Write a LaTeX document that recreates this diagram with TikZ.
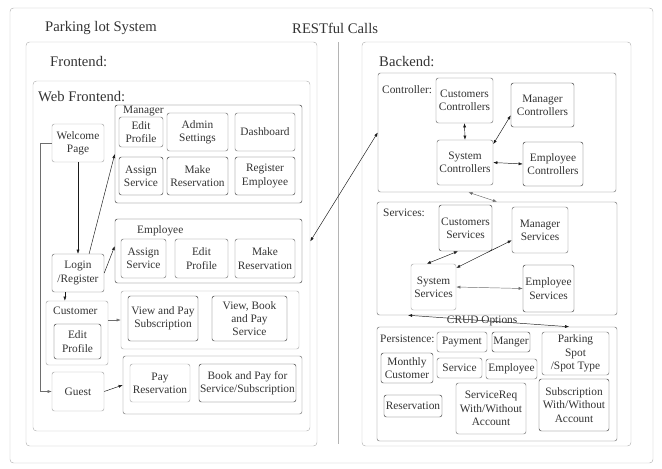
\documentclass[tikz,border=0pt]{standalone}
\usepackage{fontspec}
\setmainfont{Liberation Serif}
\usepackage{xcolor}
\usetikzlibrary{arrows.meta,positioning,calc,fit}
\definecolor{tinta}{HTML}{1A1A1A}
\definecolor{texto}{HTML}{333333}
\definecolor{oscuro}{HTML}{3C3C3C}
\definecolor{medio}{HTML}{6E6E6E}
\definecolor{claro}{HTML}{A6A6A6}
\definecolor{marcoGris}{HTML}{B4B4B4}
\newcommand{\nodofont}{\fontsize{9.7}{11.3}\selectfont}
\newcommand{\titulofont}{\fontsize{12.5}{14}\selectfont}

\begin{document}
\begin{tikzpicture}[x=0.03cm,y=-0.03cm,
    caja/.style={draw=oscuro,rounded corners=2pt,align=center,inner sep=0.8pt,
                 font=\nodofont,text=texto},
    tam/.style 2 args={minimum width=#1*0.03cm,minimum height=#2*0.03cm},
    grupo/.style={draw=oscuro,rounded corners=2pt,inner sep=0pt},
    marco/.style={draw=marcoGris,rounded corners=3pt,inner sep=0pt},
    titulo/.style={anchor=west,inner sep=0pt,font=\titulofont,text=texto},
    etiqueta/.style={anchor=west,inner sep=0pt,font=\nodofont,text=texto},
    flecha/.style={-{Latex[length=3.5pt,width=2.6pt]},line width=0.4pt,tinta},
    dflecha/.style={{Latex[length=3.5pt,width=2.6pt]}-{Latex[length=3.5pt,width=2.6pt]},
                    line width=0.4pt,tinta}]
  \useasboundingbox (0,0) rectangle (662,468);

  % marcos exteriores
  \node[marco,fit={(10,8) (653,463)}] (sis) {};
  \node[marco,fit={(26,42) (317,446)}] (front) {};
  \node[marco,fit={(33,81) (310,431)}] (web) {};
  \node[marco,fit={(362,42) (631,446)}] (back) {};
  \coordinate (sepA) at (338,42);
  \coordinate (sepB) at (338,444);
  \draw[marcoGris] (sepA) -- (sepB);

  \node[titulo] (tSis) at (45,28) {Parking lot System};
  \node[titulo] (tRest) at (292,28) {RESTful Calls};
  \node[titulo] (tFront) at (50,62) {Frontend:};
  \node[titulo] (tWeb) at (38,97) {Web Frontend:};
  \node[titulo] (tBack) at (379,62) {Backend:};

  % frontend: manager
  \node[grupo,fit={(115,105) (302,203)}] (gMan) {};
  \node[etiqueta] (tMan) at (123,111) {Manager};
  \node[caja,draw=medio,tam={44}{30}] (mEdit) at (141,132) {Edit\\Profile};
  \node[caja,draw=medio,tam={61}{38}] (mAdmin) at (197.5,132) {Admin\\Settings};
  \node[caja,draw=medio,tam={60}{38}] (mDash) at (265,132) {Dashboard};
  \node[caja,tam={44}{38}] (mAsig) at (141,176) {Assign\\Service};
  \node[caja,tam={61}{38}] (mRes) at (197.5,176) {Make\\Reservation};
  \node[caja,tam={60}{38}] (mReg) at (265,176) {Register\\Employee};

  \node[caja,draw=claro,tam={52}{38}] (bien) at (78,143) {Welcome\\Page};
  \node[caja,draw=medio,tam={52}{38}] (login) at (78,273) {Login\\/Register};

  % frontend: employee
  \node[grupo,fit={(115,219) (302,283)}] (gEmp) {};
  \node[etiqueta] (tEmp) at (137,231) {Employee};
  \node[caja,draw=medio,tam={45}{39}] (eAsig) at (143.5,258.5) {Assign\\Service};
  \node[caja,draw=medio,tam={53}{39}] (eEdit) at (201.5,258.5) {Edit\\Profile};
  \node[caja,draw=medio,tam={60}{39}] (eRes) at (265,258.5) {Make\\Reservation};

  % frontend: customer
  \node[grupo,draw=claro,fit={(46,301) (108,365)}] (cli) {};
  \node[etiqueta] (tCli) at (53,311) {Customer};
  \node[caja,tam={47}{35}] (cEdit) at (77.5,341.5) {Edit\\Profile};
  \node[grupo,draw=claro,fit={(121,291) (299,349)}] (gCli) {};
  \node[caja,tam={70}{45}] (cSub) at (163,318.5) {View and Pay\\Subscription};
  \node[caja,tam={75}{45}] (cServ) at (249.5,318.5) {View, Book\\and Pay\\Service};

  % frontend: guest
  \node[caja,draw=claro,tam={52}{39}] (inv) at (78,391.5) {Guest};
  \node[grupo,draw=medio,fit={(123,356) (302,414)}] (gInv) {};
  \node[caja,draw=claro,tam={60}{38}] (iPay) at (160,383) {Pay\\Reservation};
  \node[caja,tam={97}{38}] (iBook) at (247.5,383) {Book and Pay for\\Service/Subscription};

  \draw[flecha] (bien.south) -- (login.north);
  \draw[flecha,medio] (bien.west) -- ++(-12,0) |- (inv.west);
  \draw[flecha] (login.60) -- (gMan.west);
  \draw[flecha] (login.east) -- (gEmp.177);
  \coordinate (lc) at ($(login.south west)!0.25!(login.south east)$);
  \draw[flecha] (lc) -- (lc |- cli.north);
  \draw[flecha,medio] (cli.east |- gCli.west) -- (gCli.west);
  \draw[flecha] (inv.east) -- (gInv.west);

  % backend: controladores
  \node[grupo,draw=medio,fit={(378,73) (616,192)}] (ctrl) {};
  \node[etiqueta] (tCtrl) at (382,90) {Controller:};
  \node[caja,draw=medio,tam={57}{45}] (cc) at (464.5,100.5) {Customers\\Controllers};
  \node[caja,tam={63}{44}] (mc) at (542.5,105) {Manager\\Controllers};
  \node[caja,draw=medio,tam={56}{45}] (sc) at (465,162.5) {System\\Controllers};
  \node[caja,tam={60}{44}] (ec) at (553,164) {Employee\\Controllers};
  \draw[dflecha] (cc.south) -- (sc.north);
  \draw[dflecha] (sc.33) -- (mc.198);
  \draw[dflecha] (sc.east) -- (ec.west);

  % backend: servicios
  \node[grupo,draw=medio,fit={(377,202) (617,315)}] (serv) {};
  \node[etiqueta] (tServ) at (383,213) {Services:};
  \node[caja,tam={53}{46}] (cs) at (465.5,228) {Customers\\Services};
  \node[caja,draw=medio,tam={56}{46}] (ms) at (540,230) {Manager\\Services};
  \node[caja,draw=claro,tam={45}{46}] (ss) at (433.5,287) {System\\Services};
  \node[caja,tam={51}{47}] (es) at (548.5,288.5) {Employee\\Services};
  \draw[dflecha] (ss.106) -- (cs.252);
  \draw[dflecha] (ss.40) -- (ms.200);
  \draw[dflecha,medio] (ss.east) -- (es.west);

  \coordinate (cs1) at ($(ctrl.south west)!0.38!(ctrl.south east)$);
  \draw[dflecha,medio] (cs1) -- (serv.north);
  \draw[dflecha] (web.6) -- (ctrl.west);

  % backend: persistencia
  \node[grupo,draw=medio,fit={(377,327) (617,441)}] (per) {};
  \node[etiqueta] (tPer) at (380,339) {Persistence:};
  \node[caja,draw=medio,tam={50}{20}] (pago) at (462,342) {Payment};
  \node[caja,tam={38}{20}] (mang) at (511,342) {Manger};
  \node[caja,draw=medio,tam={67}{43}] (plaza) at (575.5,353.5) {Parking\\Spot\\/Spot Type};
  \node[caja,tam={52}{30}] (mens) at (407,368) {Monthly\\Customer};
  \node[caja,draw=medio,tam={45}{20}] (servi) at (459.5,368) {Service};
  \node[caja,draw=medio,tam={51}{20}] (empl) at (511.5,369) {Employee};
  \node[caja,tam={58}{22}] (reser) at (413,406) {Reservation};
  \node[caja,draw=medio,tam={70}{51}] (sreq) at (491,408.5) {ServiceReq\\With/Without\\Account};
  \node[caja,tam={70}{52}] (subs) at (574,405) {Subscription\\With/Without\\Account};

  \coordinate (crudA) at ($(serv.south west)!0.13!(serv.south east)$);
  \coordinate (crudB) at ($(per.north west)!0.8!(per.north east)$);
  \draw[dflecha] (crudA) -- node[pos=0.46,etiqueta,anchor=center] (tCrud) {CRUD Options} (crudB);
\end{tikzpicture}
\end{document}
